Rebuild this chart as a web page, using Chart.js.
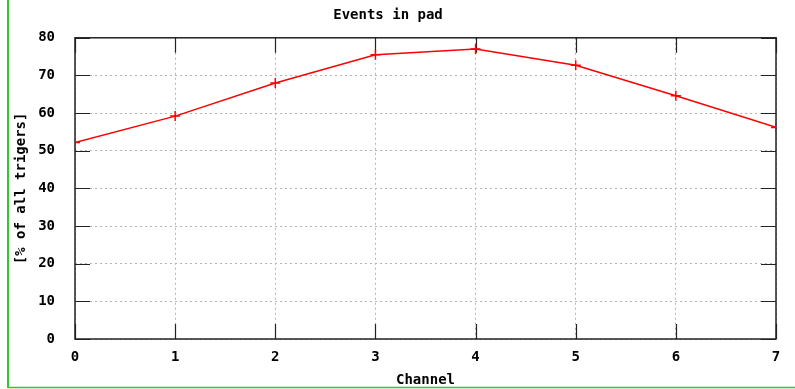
<!DOCTYPE html>
<html>
<head>
<meta charset="utf-8">
<script src="https://cdn.jsdelivr.net/npm/chart.js@4"></script>
<style>
  html, body { margin: 0; padding: 0; background: #fff; }
  #wrap { width: 795px; height: 389px; }
</style>
</head>
<body>
<div id="wrap"><canvas id="pad"></canvas></div>
<script>
// events per channel, % of all triggers
const channels = [0, 1, 2, 3, 4, 5, 6, 7];
const eventsPct = [52.2, 59.2, 68.0, 75.5, 77.0, 72.7, 64.6, 56.2];
const yTicks = [0, 10, 20, 30, 40, 50, 60, 70, 80];

const monoFont = { family: "'DejaVu Sans Mono', monospace", size: 14, weight: 'bold' };

// gnuplot-like frame with inward tick marks + the green page borders
const framePlugin = {
  id: 'frame',
  beforeDatasetsDraw(chart) {
    const { ctx, chartArea: a, scales } = chart;
    ctx.save();
    ctx.strokeStyle = '#222';
    ctx.lineWidth = 1.2;
    ctx.beginPath();
    scales.x.ticks.forEach(t => {
      const px = Math.round(scales.x.getPixelForValue(t.value)) + 0.5;
      ctx.moveTo(px, a.bottom); ctx.lineTo(px, a.bottom - 15);
      ctx.moveTo(px, a.top); ctx.lineTo(px, a.top + 15);
    });
    scales.y.ticks.forEach(t => {
      const py = Math.round(scales.y.getPixelForValue(t.value)) + 0.5;
      ctx.moveTo(a.left, py); ctx.lineTo(a.left + 15, py);
      ctx.moveTo(a.right, py); ctx.lineTo(a.right - 15, py);
    });
    ctx.stroke();
    ctx.lineWidth = 1.5;
    ctx.strokeRect(a.left, a.top, a.right - a.left, a.bottom - a.top);
    ctx.restore();
  },
  afterDraw(chart) {
    const { ctx, width, height } = chart;
    ctx.save();
    ctx.strokeStyle = '#33c633';
    ctx.lineWidth = 2;
    ctx.beginPath();
    ctx.moveTo(8, 0); ctx.lineTo(8, height - 1);
    ctx.stroke();
    ctx.lineWidth = 1.5;
    ctx.beginPath();
    ctx.moveTo(8, height - 1.5); ctx.lineTo(width, height - 1.5);
    ctx.stroke();
    ctx.restore();
  }
};

new Chart(document.getElementById('pad').getContext('2d'), {
  type: 'line',
  data: {
    datasets: [{
      label: 'Events in pad',
      data: channels.map((c, i) => ({ x: c, y: eventsPct[i] })),
      borderColor: '#ff0000',
      backgroundColor: '#ff0000',
      borderWidth: 1.5,
      pointStyle: 'cross',
      pointRadius: 5,
      pointBorderWidth: 1.5,
      tension: 0,
      fill: false
    }]
  },
  options: {
    responsive: true,
    maintainAspectRatio: false,
    animation: false,
    layout: { padding: { left: 0, right: 19, top: 0, bottom: 0 } },
    plugins: {
      legend: { display: false },
      tooltip: { enabled: false },
      title: {
        display: true,
        text: 'Events in pad',
        color: '#000',
        font: monoFont,
        padding: { top: 7, bottom: 14 }
      }
    },
    scales: {
      x: {
        type: 'linear',
        min: channels[0],
        max: channels[channels.length - 1],
        ticks: { stepSize: 1, color: '#000', font: monoFont, padding: 10 },
        grid: { color: '#b4b4b4', drawTicks: false, lineWidth: 1 },
        border: { display: false, dash: [2, 3] },
        title: { display: true, text: 'Channel', color: '#000', font: monoFont, padding: { top: 0, bottom: 0 } },
        afterFit(s) { s.height = 50; }
      },
      y: {
        min: yTicks[0],
        max: yTicks[yTicks.length - 1],
        afterBuildTicks(s) { s.ticks = yTicks.map(v => ({ value: v })); },
        ticks: { color: '#000', font: monoFont, padding: 20 },
        grid: { color: '#b4b4b4', drawTicks: false, lineWidth: 1 },
        border: { display: false, dash: [2, 3] },
        title: { display: true, text: '[% of all trigers]', color: '#000', font: monoFont, padding: { top: 13, bottom: 0 } },
        afterFit(s) { s.width = 75; }
      }
    }
  },
  plugins: [framePlugin]
});
</script>
</body>
</html>
